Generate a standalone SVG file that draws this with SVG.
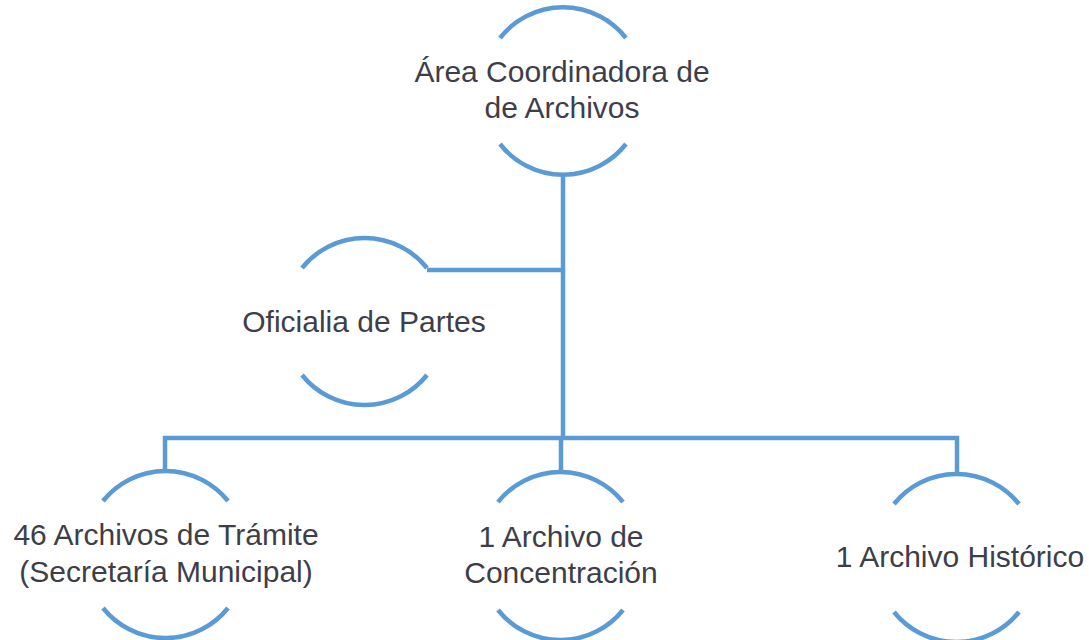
<svg xmlns="http://www.w3.org/2000/svg" width="1089" height="640" viewBox="0 0 1089 640">
<style>
.arc{fill:none;stroke:#5B9BD5;stroke-width:4.5;stroke-linecap:butt}
.con{fill:none;stroke:#5B9BD5;stroke-width:4.5}
.lbl{font-family:"Liberation Sans",Arial,sans-serif;font-size:30px;fill:#3E3E48;text-anchor:middle}
</style>
<rect width="1089" height="640" fill="#ffffff"/>
<g id="connectors">
<path class="con" d="M563,173 V438"/>
<path class="con" d="M427,270 H563"/>
<path class="con" d="M165,472 V438 H957 V475"/>
<path class="con" d="M561,438 V472"/>
</g>
<g id="node-area">
<path class="arc" d="M500,38 A80,80 0 0 1 626,38"/>
<path class="arc" d="M500,144 A80,80 0 0 0 626,144"/>
<text class="lbl" x="562" y="82">Área Coordinadora de</text>
<text class="lbl" x="562" y="118">de Archivos</text>
</g>
<g id="node-oficialia">
<path class="arc" d="M302,268 A80,80 0 0 1 427,268"/>
<path class="arc" d="M302,375 A80,80 0 0 0 427,375"/>
<text class="lbl" x="364" y="332">Oficialia de Partes</text>
</g>
<g id="node-tramite">
<path class="arc" d="M103,501 A80,80 0 0 1 228,501"/>
<path class="arc" d="M103,608 A80,80 0 0 0 228,608"/>
<text class="lbl" x="166" y="545">46 Archivos de Trámite</text>
<text class="lbl" x="166" y="582">(Secretaría Municipal)</text>
</g>
<g id="node-concentracion">
<path class="arc" d="M498,502 A80,80 0 0 1 623,502"/>
<path class="arc" d="M498,610 A80,80 0 0 0 623,610"/>
<text class="lbl" x="561" y="547">1 Archivo de</text>
<text class="lbl" x="561" y="583">Concentración</text>
</g>
<g id="node-historico">
<path class="arc" d="M894,504 A80,80 0 0 1 1019,504"/>
<path class="arc" d="M894,612 A80,80 0 0 0 1019,612"/>
<text class="lbl" x="960" y="567">1 Archivo Histórico</text>
</g>
</svg>
